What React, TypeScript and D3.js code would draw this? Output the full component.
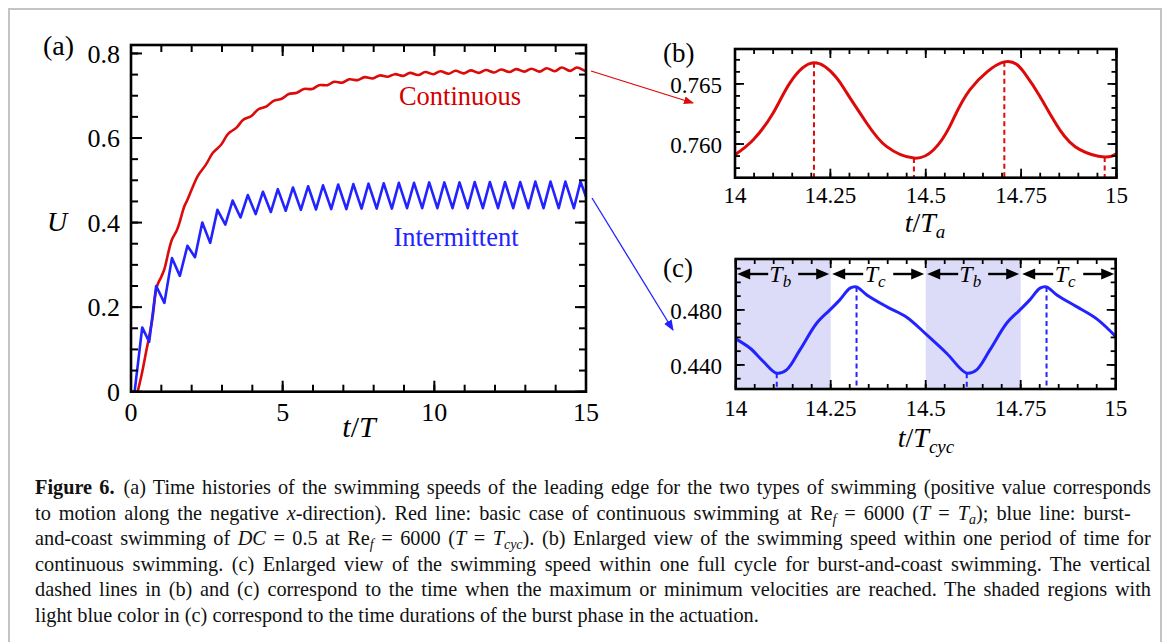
import React, { useLayoutEffect, useRef } from 'react';
import * as d3 from 'd3';

// ---------- DATA ----------
// Panel (a): continuous swimming U(t/T)
const continuousData: [number, number][] = [
  [0.22, 0], [0.35, 0.04], [0.5, 0.095], [0.7, 0.17], [0.85, 0.248], [1.0, 0.272], [1.1, 0.29],
  [1.25, 0.335], [1.35, 0.36], [1.5, 0.38], [1.6, 0.4], [1.75, 0.437], [1.85, 0.452], [2.0, 0.478],
  [2.2, 0.51], [2.47, 0.537], [2.7, 0.565], [2.97, 0.584], [3.2, 0.61], [3.47, 0.624], [3.7, 0.643],
  [3.97, 0.652], [4.2, 0.668], [4.47, 0.675], [4.7, 0.688], [4.97, 0.693], [5.2, 0.704], [5.47, 0.707],
  [5.7, 0.716], [5.97, 0.716], [6.2, 0.725], [6.47, 0.725], [6.7, 0.733], [6.97, 0.731], [7.2, 0.739],
  [7.47, 0.737], [7.7, 0.744], [7.97, 0.741], [8.2, 0.748], [8.47, 0.745], [8.7, 0.751], [8.97, 0.747],
  [9.2, 0.754], [9.47, 0.749], [9.7, 0.756], [9.97, 0.751], [10.2, 0.758], [10.47, 0.752], [10.7, 0.759],
  [10.97, 0.753], [11.2, 0.76], [11.47, 0.754], [11.7, 0.761], [11.97, 0.755], [12.2, 0.762],
  [12.47, 0.756], [12.7, 0.763], [12.97, 0.757], [13.2, 0.764], [13.47, 0.757], [13.7, 0.765],
  [13.97, 0.758], [14.2, 0.7667], [14.47, 0.7588], [14.7, 0.7668], [14.97, 0.7589], [15, 0.7592],
];

// Panel (a): intermittent (burst-and-coast) swimming U(t/T)
const intermittentData: [number, number][] = [
  [0.12, 0], [0.37, 0.152], [0.6, 0.118], [0.83, 0.25], [1.1, 0.21], [1.35, 0.316], [1.61, 0.274],
  [1.86, 0.345], [2.11, 0.318], [2.35, 0.4], [2.61, 0.352], [2.85, 0.43], [3.11, 0.395], [3.35, 0.452],
  [3.61, 0.412], [3.85, 0.465], [4.11, 0.42], [4.35, 0.473], [4.61, 0.425], [4.84, 0.479], [5.1, 0.428],
  [5.34, 0.483], [5.6, 0.43], [5.84, 0.486], [6.1, 0.431], [6.33, 0.488], [6.6, 0.432], [6.83, 0.49],
  [7.1, 0.432], [7.33, 0.491], [7.6, 0.433], [7.83, 0.492], [8.1, 0.433], [8.33, 0.493], [8.6, 0.433],
  [8.83, 0.494], [9.1, 0.434], [9.33, 0.494], [9.6, 0.434], [9.83, 0.495], [10.1, 0.434], [10.33, 0.495],
  [10.6, 0.434], [10.83, 0.495], [11.1, 0.434], [11.33, 0.496], [11.6, 0.434], [11.83, 0.496],
  [12.1, 0.434], [12.33, 0.496], [12.6, 0.434], [12.83, 0.496], [13.1, 0.434], [13.33, 0.497],
  [13.6, 0.434], [13.83, 0.497], [14.1, 0.434], [14.32, 0.497], [14.6, 0.434], [14.82, 0.497], [15, 0.461],
];

// Panel (b): continuous, one period t/Ta in [14, 15]
const zoomContinuous: [number, number][] = [
  [14.0, 0.75911], [14.048, 0.76036], [14.1, 0.76258], [14.144, 0.76508], [14.207, 0.76675],
  [14.265, 0.76555], [14.293, 0.76425], [14.345, 0.76175], [14.397, 0.7598],
  [14.469, 0.75883], [14.52, 0.7595], [14.563, 0.76147], [14.616, 0.76453],
  [14.706, 0.76683], [14.76, 0.76585], [14.799, 0.76397], [14.851, 0.7612],
  [14.904, 0.75953], [14.969, 0.75892], [15.0, 0.75919],
];
const extremaB = [14.207, 14.469, 14.706, 14.969];

// Panel (c): burst-and-coast, one cycle t/Tcyc in [14, 15]
const zoomIntermittent: [number, number][] = [
  [14.0, 0.4589], [14.038, 0.4521], [14.073, 0.4424], [14.108, 0.434], [14.134, 0.4364],
  [14.169, 0.4509], [14.213, 0.4703], [14.248, 0.48], [14.274, 0.4873], [14.301, 0.4958],
  [14.318, 0.4967], [14.345, 0.4909], [14.397, 0.4824], [14.45, 0.4747], [14.503, 0.4618],
  [14.555, 0.4485], [14.608, 0.434], [14.634, 0.4364], [14.669, 0.4509], [14.713, 0.4703],
  [14.748, 0.48], [14.774, 0.4873], [14.801, 0.4958], [14.818, 0.4967], [14.845, 0.4909],
  [14.897, 0.4824], [14.95, 0.4735], [15.0, 0.4607],
];
const extremaC = [14.108, 14.318, 14.608, 14.818];
const burstPhases: [number, number][] = [[14, 14.25], [14.5, 14.75]];
const phaseSegments = [
  { from: 14, to: 14.25, sub: 'b' },
  { from: 14.25, to: 14.5, sub: 'c' },
  { from: 14.5, to: 14.75, sub: 'b' },
  { from: 14.75, to: 15, sub: 'c' },
];

const aXTicks = [0, 5, 10, 15];
const aYTicks = [0, 0.2, 0.4, 0.6, 0.8];
const bXTicks = [14, 14.25, 14.5, 14.75, 15];
const bYTicks = [0.76, 0.765];
const cXTicks = [14, 14.25, 14.5, 14.75, 15];
const cYTicks = [0.44, 0.48];

// ---------- STYLE ----------
const SERIF = "'Liberation Serif', 'Times New Roman', serif";
const RED = '#dd0a0a';
const BLUE = '#2323ff';
const SHADE = '#dcdcf8';

type Scale = d3.ScaleLinear<number, number>;

function Frame(props: {
  x: Scale; y: Scale; xMajor: number[]; xMinor: number[]; yMajor: number[]; yMinor: number[];
  maj: number; min: number; sw: number; fw: number;
}) {
  const { x, y, xMajor, xMinor, yMajor, yMinor, maj, min, sw, fw } = props;
  const [x0, x1] = x.range();
  const [y0, y1] = y.range();
  const lines: any[] = [];
  const addX = (vals: number[], len: number, key: string) =>
    vals.forEach((v, i) => {
      const px = x(v);
      lines.push(<line key={`${key}b${i}`} x1={px} x2={px} y1={y0} y2={y0 - len} />);
      lines.push(<line key={`${key}t${i}`} x1={px} x2={px} y1={y1} y2={y1 + len} />);
    });
  const addY = (vals: number[], len: number, key: string) =>
    vals.forEach((v, i) => {
      const py = y(v);
      lines.push(<line key={`${key}l${i}`} x1={x0} x2={x0 + len} y1={py} y2={py} />);
      lines.push(<line key={`${key}r${i}`} x1={x1} x2={x1 - len} y1={py} y2={py} />);
    });
  addX(xMinor, min, 'xm');
  addX(xMajor, maj, 'xM');
  addY(yMinor, min, 'ym');
  addY(yMajor, maj, 'yM');
  return (
    <g stroke="#000" strokeWidth={sw}>
      {lines}
      <rect x={x0} y={y1} width={x1 - x0} height={y0 - y1} fill="none" strokeWidth={fw} />
    </g>
  );
}

// caption line targets (right edge of justified lines)
const captionTargets = [1151, 1131, 1151, 1151, 1151, 0];

export default function App() {
  const capRefs = useRef<(SVGTextElement | null)[]>([]);

  useLayoutEffect(() => {
    capRefs.current.forEach((el, i) => {
      if (!el) return;
      const target = captionTargets[i];
      if (!target) return;
      el.setAttribute('word-spacing', '0');
      const bb = el.getBBox();
      const right = bb.x + bb.width;
      const txt = el.textContent || '';
      const spaces = (txt.match(/ /g) || []).length;
      if (spaces > 0) {
        const ws = (target - right) / spaces;
        el.setAttribute('word-spacing', String(ws));
      }
    });
  }, []);

  // Panel (a)
  const xA = d3.scaleLinear().domain([0, 15]).range([131, 586]);
  const yA = d3.scaleLinear().domain([0, 0.82]).range([391.7, 45]);
  const lineA = d3.line<[number, number]>().x(d => xA(d[0])).y(d => yA(d[1]));
  const lineARed = d3.line<[number, number]>().x(d => xA(d[0])).y(d => yA(d[1])).curve(d3.curveCatmullRom.alpha(0.5));

  // Panel (b)
  const xB = d3.scaleLinear().domain([14, 15]).range([735, 1116.5]);
  const yB = d3.scaleLinear().domain([0.7572, 0.7679]).range([177.7, 49]);
  const lineB = d3.line<[number, number]>().x(d => xB(d[0])).y(d => yB(d[1])).curve(d3.curveNatural);

  // Panel (c)
  const xC = d3.scaleLinear().domain([14, 15]).range([735.7, 1115.7]);
  const yC = d3.scaleLinear().domain([0.4225, 0.517]).range([389, 259]);
  const lineC = d3.line<[number, number]>().x(d => xC(d[0])).y(d => yC(d[1])).curve(d3.curveCatmullRom.alpha(0.5));

  const valAt = (data: [number, number][], t: number) => {
    let best = data[0];
    data.forEach(d => { if (Math.abs(d[0] - t) < Math.abs(best[0] - t)) best = d; });
    return best[1];
  };

  const fmtA = (v: number) => (v === 0 ? '0' : String(v));
  const fmt3 = d3.format('.3f');

  const arrowY = 274;
  const setRef = (i: number) => (el: SVGTextElement | null) => { capRefs.current[i] = el; };

  return (
    <svg width={1168} height={642} style={{ position: 'absolute', left: 0, top: 0, background: '#fff' }}
      fontFamily={SERIF}>
      <rect x={0} y={0} width={1168} height={642} fill="#fff" />
      {/* outer frame */}
      <path d="M9,660 L9,9 L1161,9 L1161,660" fill="none" stroke="#c4c4c4" strokeWidth={2} />

      {/* ---------- Panel (a) ---------- */}
      <path d={lineARed(continuousData) || ''} fill="none" stroke={RED} strokeWidth={2.6} strokeLinejoin="round" />
      <path d={lineA(intermittentData) || ''} fill="none" stroke={BLUE} strokeWidth={2.6} strokeLinejoin="round" />
      <Frame x={xA} y={yA} xMajor={aXTicks} xMinor={d3.range(0, 15.01, 1)} yMajor={aYTicks}
        yMinor={d3.range(0, 0.821, 0.05)} maj={11} min={7} sw={2} fw={2.6} />
      {aYTicks.map(v => (
        <text key={`ay${v}`} x={120} y={yA(v)} dy="0.35em" textAnchor="end" fontSize={26}>{fmtA(v)}</text>
      ))}
      {aXTicks.map(v => (
        <text key={`ax${v}`} x={xA(v)} y={421} textAnchor="middle" fontSize={26}>{v}</text>
      ))}
      <text x={43} y={55} fontSize={28}>(a)</text>
      <text x={57} y={231} textAnchor="middle" fontSize={28} fontStyle="italic">U</text>
      <text x={359} y={437} textAnchor="middle" fontSize={30}>
        <tspan fontStyle="italic">t</tspan>/<tspan fontStyle="italic">T</tspan>
      </text>
      <text x={460} y={105} textAnchor="middle" fontSize={26.5} fill="#d40000">Continuous</text>
      <text x={456} y={246} textAnchor="middle" fontSize={26.5} fill={BLUE}>Intermittent</text>

      {/* connecting arrows */}
      <defs>
        <marker id="arrRed" viewBox="0 0 10 10" refX="9" refY="5" markerWidth="10" markerHeight="10" orient="auto" markerUnits="userSpaceOnUse">
          <path d="M0,1 L10,5 L0,9 z" fill={RED} />
        </marker>
        <marker id="arrBlue" viewBox="0 0 10 10" refX="9" refY="5" markerWidth="11" markerHeight="11" orient="auto" markerUnits="userSpaceOnUse">
          <path d="M0,1 L10,5 L0,9 z" fill={BLUE} />
        </marker>
      </defs>
      <line x1={591} y1={71} x2={693} y2={103} stroke={RED} strokeWidth={1.3} markerEnd="url(#arrRed)" />
      <line x1={592} y1={198} x2={673} y2={330} stroke={BLUE} strokeWidth={1.3} markerEnd="url(#arrBlue)" />

      {/* ---------- Panel (b) ---------- */}
      {extremaB.map(t => (
        <line key={`eb${t}`} x1={xB(t)} x2={xB(t)} y1={yB(valAt(zoomContinuous, t))} y2={177.7}
          stroke={RED} strokeWidth={2} strokeDasharray="5,3.5" />
      ))}
      <path d={lineB(zoomContinuous) || ''} fill="none" stroke={RED} strokeWidth={3} />
      <Frame x={xB} y={yB} xMajor={bXTicks} xMinor={d3.range(14, 15.001, 0.05)} yMajor={bYTicks}
        yMinor={d3.range(0.758, 0.7679, 0.001)} maj={9} min={5} sw={1.8} fw={2.6} />
      {bYTicks.map(v => (
        <text key={`by${v}`} x={722} y={yB(v)} dy="0.4em" textAnchor="end" fontSize={23}>{fmt3(v)}</text>
      ))}
      {bXTicks.map(v => (
        <text key={`bx${v}`} x={xB(v)} y={203} textAnchor="middle" fontSize={23}>{String(v)}</text>
      ))}
      <text x={663} y={62} fontSize={27}>(b)</text>
      <text x={925} y={232} textAnchor="middle" fontSize={28}>
        <tspan fontStyle="italic">t</tspan>/<tspan fontStyle="italic">T</tspan>
        <tspan fontStyle="italic" fontSize={19} dy={6}>a</tspan>
      </text>

      {/* ---------- Panel (c) ---------- */}
      {burstPhases.map(([a, b]) => (
        <rect key={`bp${a}`} x={xC(a)} y={259} width={xC(b) - xC(a)} height={130} fill={SHADE} />
      ))}
      {extremaC.map(t => (
        <line key={`ec${t}`} x1={xC(t)} x2={xC(t)} y1={yC(valAt(zoomIntermittent, t))} y2={389}
          stroke={BLUE} strokeWidth={2} strokeDasharray="5,3.5" />
      ))}
      <path d={lineC(zoomIntermittent) || ''} fill="none" stroke={BLUE} strokeWidth={3} />
      <Frame x={xC} y={yC} xMajor={cXTicks} xMinor={d3.range(14, 15.001, 0.05)} yMajor={cYTicks}
        yMinor={d3.range(0.43, 0.517, 0.01)} maj={9} min={5} sw={1.8} fw={2.6} />
      {phaseSegments.map((s, i) => {
        const a = xC(s.from) + 1.5;
        const b = xC(s.to) - 1.5;
        const m = (a + b) / 2;
        const gap = 15;
        const ah = 13;
        return (
          <g key={`ps${i}`}>
            <line x1={a + ah - 1} x2={m - gap} y1={arrowY} y2={arrowY} stroke="#000" strokeWidth={2.4} />
            <line x1={m + gap} x2={b - ah + 1} y1={arrowY} y2={arrowY} stroke="#000" strokeWidth={2.4} />
            <path d={`M${a},${arrowY} L${a + ah},${arrowY - 5.5} L${a + ah},${arrowY + 5.5} Z`} fill="#000" />
            <path d={`M${b},${arrowY} L${b - ah},${arrowY - 5.5} L${b - ah},${arrowY + 5.5} Z`} fill="#000" />
            <text x={m - 3} y={arrowY + 8} textAnchor="middle" fontSize={24} fontStyle="italic">
              T<tspan fontSize={17} dy={5}>{s.sub}</tspan>
            </text>
          </g>
        );
      })}
      {cYTicks.map(v => (
        <text key={`cy${v}`} x={722} y={yC(v)} dy="0.4em" textAnchor="end" fontSize={23}>{fmt3(v)}</text>
      ))}
      {cXTicks.map(v => (
        <text key={`cx${v}`} x={xC(v)} y={416} textAnchor="middle" fontSize={23}>{String(v)}</text>
      ))}
      <text x={663} y={277} fontSize={27}>(c)</text>
      <text x={926} y={447} textAnchor="middle" fontSize={28}>
        <tspan fontStyle="italic">t</tspan>/<tspan fontStyle="italic">T</tspan>
        <tspan fontStyle="italic" fontSize={19} dy={6}>cyc</tspan>
      </text>

      {/* ---------- Caption ---------- */}
      <g fontSize={20.3} fill="#111">
        <text ref={setRef(0)} x={35} y={494}>
          <tspan fontWeight="bold">Figure 6.</tspan><tspan dx={9}>{'(a) Time histories of the swimming speeds of the leading edge for the two types of swimming (positive value corresponds'}</tspan>
        </text>
        <text ref={setRef(1)} x={35} y={519.5}>
          {'to motion along the negative '}<tspan fontStyle="italic">x</tspan>{'-direction). Red line: basic case of continuous swimming at Re'}
          <tspan fontStyle="italic" fontSize={14} baselineShift="-4">f</tspan>{' = 6000 ('}
          <tspan fontStyle="italic">T</tspan>{' = '}<tspan fontStyle="italic">T</tspan>
          <tspan fontStyle="italic" fontSize={14} baselineShift="-4">a</tspan>{'); blue line: burst-'}
        </text>
        <text ref={setRef(2)} x={35} y={545}>
          {'and-coast swimming of '}<tspan fontStyle="italic">DC</tspan>{' = 0.5 at Re'}
          <tspan fontStyle="italic" fontSize={14} baselineShift="-4">f</tspan>{' = 6000 ('}
          <tspan fontStyle="italic">T</tspan>{' = '}<tspan fontStyle="italic">T</tspan>
          <tspan fontStyle="italic" fontSize={14} baselineShift="-4">cyc</tspan>{'). (b) Enlarged view of the swimming speed within one period of time for'}
        </text>
        <text ref={setRef(3)} x={35} y={570.5}>
          continuous swimming. (c) Enlarged view of the swimming speed within one full cycle for burst-and-coast swimming. The vertical
        </text>
        <text ref={setRef(4)} x={35} y={596}>
          dashed lines in (b) and (c) correspond to the time when the maximum or minimum velocities are reached. The shaded regions with
        </text>
        <text ref={setRef(5)} x={35} y={621.5}>
          light blue color in (c) correspond to the time durations of the burst phase in the actuation.
        </text>
      </g>
    </svg>
  );
}
